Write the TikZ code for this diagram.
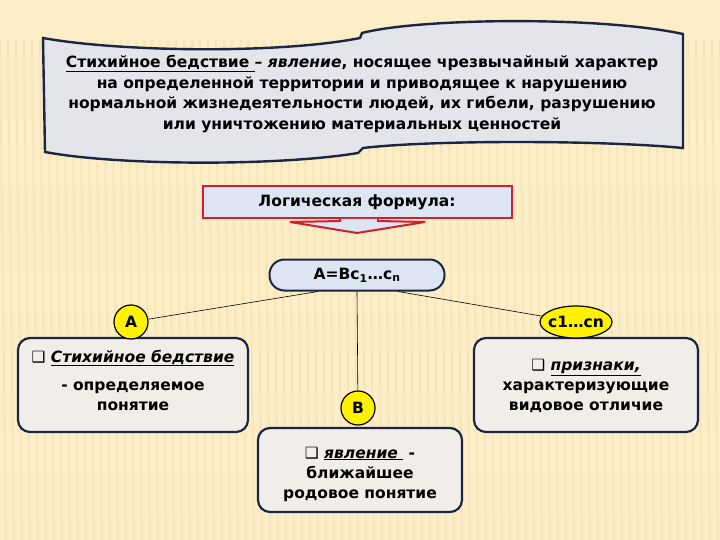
\documentclass[tikz,border=0pt]{standalone}
\usepackage{fontspec}
\setmainfont{DejaVu Sans}
\usetikzlibrary{shapes.geometric,positioning}

\definecolor{paper}{HTML}{FCEFC7}
\definecolor{stripe}{HTML}{F7E6BC}
\definecolor{navy}{HTML}{1C2541}
\definecolor{scroll}{HTML}{E3E5EA}
\definecolor{pale}{HTML}{DCE5F1}
\definecolor{card}{HTML}{F1EEEA}
\definecolor{frame}{HTML}{D0202E}
\newcommand{\bul}{\char"2751}

\begin{document}
\begin{tikzpicture}[x=1pt,y=-1pt,
	every node/.style={font=\bfseries\fontsize{15.5}{20}\selectfont, align=center},
	card/.style={draw=navy, line width=2.2pt, fill=card, rounded corners=12pt, inner sep=0pt},
	badge/.style={circle, draw=black, line width=1.2pt, fill=yellow, minimum size=34pt, inner sep=0pt},
	link/.style={draw=black, line width=0.6pt}]
	\useasboundingbox[fill=paper] (0,0) rectangle (720,540);
	\foreach \x in {0,8,...,720}
		\draw[stripe, line width=2.5pt] (\x,40) -- (\x+6,540);
	\draw[navy, line width=2.4pt, fill=scroll]
	(43,38) .. controls (120,52) and (280,54) .. (360,38)
	-- (362,33) .. controls (420,18) and (600,16) .. (683,34)
	-- (683,148) .. controls (600,140) and (430,140) .. (363,148)
	-- (358,153) .. controls (280,166) and (120,166) .. (45,152) -- cycle;
	\node[font=\bfseries\fontsize{15.5}{20.5}\selectfont] (def) at (362,94) {\underline{Стихийное бедствие }– \textit{явление}, носящее чрезвычайный характер\\
		на определенной территории и приводящее к нарушению\\
		нормальной жизнедеятельности людей, их гибели, разрушению\\
		или уничтожению материальных ценностей};
	\node[draw=frame, line width=2pt, fill=pale, minimum width=309pt, minimum height=32pt] (form) at (357,202) {Логическая формула:};
	\draw[frame, line width=2pt, fill=pale] (340,219) -- (340,221) -- (290,222) -- (357,233) -- (425,222) -- (378,221) -- (378,219);
	\node[draw=navy, line width=2pt, fill=pale, rounded corners=15pt, minimum width=175pt, minimum height=31pt] (law) at (357,275) {А=Вс\textsubscript{1}…с\textsubscript{n}};
	\node[card, minimum width=230pt, minimum height=94pt] (left) at (133,385) {};
	\node (lefttext) at (133,380) {\bul\ \underline{\textit{Стихийное бедствие}}\\[8pt]
		- определяемое\\ понятие};
	\node[card, minimum width=224pt, minimum height=94pt] (right) at (586,385) {};
	\node (righttext) at (586,386) {\bul\ \underline{\textit{признаки,}}\\
		характеризующие\\ видовое отличие};
	\node[card, minimum width=204pt, minimum height=84pt] (bottom) at (360,470) {};
	\node (bottomtext) at (360,474) {\bul\ \underline{\textit{явление }} -\\
		ближайшее\\ родовое понятие};
	\node[badge] (a) at (131,322) {А};
	\node[badge, ellipse, minimum width=72pt, minimum height=32pt] (c) at (576,322) {\makebox[0pt]{с1…сn}};
	\node[badge] (b) at (358,408) {В};
	\path[link] (law.203) edge (a) (law.south) edge (b) (law.-22) edge (c);
\end{tikzpicture}
\end{document}
